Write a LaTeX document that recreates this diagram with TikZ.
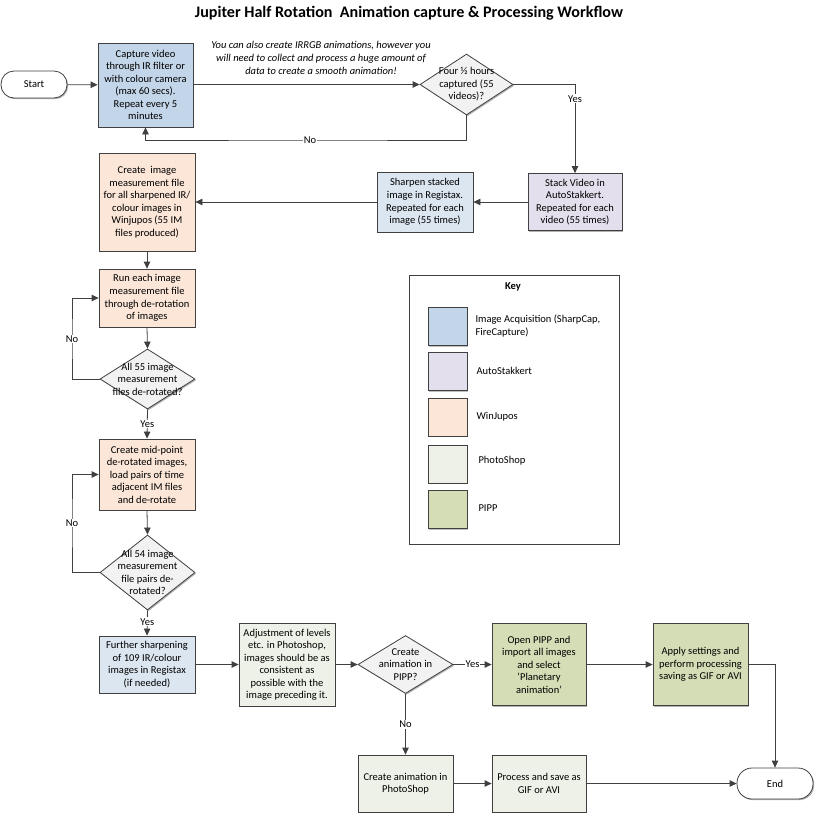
\documentclass[tikz,border=0pt]{standalone}
\usepackage{fontspec}
\setmainfont{Carlito}
\usetikzlibrary{arrows.meta,shapes.geometric,shadows}
\definecolor{acq}{HTML}{C3D5E8}
\definecolor{acqlt}{HTML}{DCE6F1}
\definecolor{ast}{HTML}{E4DFEC}
\definecolor{wjp}{HTML}{FBE6D8}
\definecolor{psh}{HTML}{EEF1E7}
\definecolor{pipp}{HTML}{D5DDB6}
\definecolor{dia}{HTML}{F2F2F2}
\definecolor{ln}{HTML}{404040}
\tikzset{
  box/.style={draw=ln, line width=0.8pt, align=center, inner sep=1pt,
    drop shadow={shadow xshift=1.2pt, shadow yshift=-1.2pt, opacity=0.3, fill=black}},
  term/.style={box, fill=white, rounded corners=13pt},
  dec/.style={diamond, draw=ln, line width=0.8pt, fill=dia, inner sep=0pt,
    drop shadow={shadow xshift=1.2pt, shadow yshift=-1.2pt, opacity=0.3, fill=black}},
  conn/.style={draw=ln, line width=0.8pt, -{Triangle[length=7pt,width=6.5pt]}},
  lbl/.style={fill=white, inner sep=1pt},
  swatch/.style={draw=ln, line width=0.8pt, minimum width=39pt, minimum height=38pt,
    drop shadow={shadow xshift=1pt, shadow yshift=-1pt, opacity=0.25, fill=black}},
  keytxt/.style={anchor=west, align=left},
}
\begin{document}
\begin{tikzpicture}[x=1pt,y=-1pt,font=\fontsize{10.5}{12.5}\selectfont]
\useasboundingbox (0,0) rectangle (815,815);

\node (title) at (409,13) {\fontsize{16.1}{19}\selectfont\bfseries Jupiter Half Rotation\ \ Animation capture \& Processing Workflow};

\node[term, minimum width=66pt, minimum height=27pt] (start) at (34,84.5) {Start};
\node[box, fill=acq, minimum width=95pt, minimum height=84pt] (cap) at (145.5,85)
  {Capture video\\through IR filter or\\with colour camera\\(max 60 secs).\\Repeat every 5\\minutes};
\node[align=center, font=\fontsize{10.5}{13}\selectfont\itshape] (note) at (321,58)
  {You can also create IRRGB animations, however you\\will need to collect and process a huge amount of\\data to create a smooth animation!};
\node[dec, minimum width=93pt, minimum height=61pt,
  label={[align=center]center:Four ½ hours\\captured (55\\videos)?}] (d1) at (466.5,84.5) {};
\node[box, fill=ast, minimum width=94pt, minimum height=57pt] (stack) at (575,202)
  {Stack Video in\\AutoStakkert.\\Repeated for each\\video (55 times)};
\node[box, fill=acqlt, minimum width=96pt, minimum height=60pt] (sharp) at (425,202)
  {Sharpen stacked\\image in Registax.\\Repeated for each\\image (55 times)};
\node[box, fill=wjp, minimum width=96pt, minimum height=98pt] (imf) at (147,202)
  {Create\ \ image\\measurement file\\for all sharpened IR/\\colour images in\\Winjupos (55 IM\\files produced)};
\node[box, fill=wjp, minimum width=96pt, minimum height=58pt] (run) at (147,298)
  {Run each image\\measurement file\\through de-rotation\\of images};
\node[dec, minimum width=95pt, minimum height=60pt,
  label={[align=center]center:All 55 image\\measurement\\files de-rotated?}] (d2) at (147.5,379) {};
\node[box, fill=wjp, minimum width=96pt, minimum height=71pt] (mid) at (147,474.5)
  {Create mid-point\\de-rotated images,\\load pairs of time\\adjacent IM files\\and de-rotate};
\node[dec, minimum width=95pt, minimum height=75pt,
  label={[align=center]center:All 54 image\\measurement\\file pairs de-\\rotated?}] (d3) at (147.5,572.5) {};
\node[box, fill=acqlt, minimum width=96pt, minimum height=57pt] (fur) at (147,664.5)
  {Further sharpening\\of 109 IR/colour\\images in Registax\\(if needed)};
\node[box, fill=psh, minimum width=96pt, minimum height=83pt] (adj) at (287,664.5)
  {Adjustment of levels\\etc. in Photoshop,\\images should be as\\consistent as\\possible with the\\image preceding it.};
\node[dec, minimum width=95pt, minimum height=58pt,
  label={[align=center]center:Create\\animation in\\PIPP?}] (d4) at (405.5,664.5) {};
\node[box, fill=pipp, minimum width=94pt, minimum height=82pt] (open) at (539,664.5)
  {Open PIPP and\\import all images\\and select\\‘Planetary\\animation’};
\node[box, fill=pipp, minimum width=95pt, minimum height=82pt] (apply) at (700.5,664.5)
  {Apply settings and\\perform processing\\saving as GIF or AVI};
\node[term, minimum width=76pt, minimum height=31pt, rounded corners=15pt] (end) at (775,783.5) {End};
\node[box, fill=psh, minimum width=95pt, minimum height=57pt] (psa) at (405.5,783.5)
  {Create animation in\\PhotoShop};
\node[box, fill=psh, minimum width=94pt, minimum height=57pt] (proc) at (539,783.5)
  {Process and save as\\GIF or AVI};

% key
\node[draw=ln, line width=0.8pt, minimum width=210pt, minimum height=269pt] (keybox) at (514,409.5) {};
\node[font=\fontsize{10.5}{12.5}\selectfont\bfseries] (keyt) at (513,287) {Key};
\node[swatch, fill=acq] (k1) at (447.5,326.5) {};
\node[swatch, fill=ast] (k2) at (447.5,371.5) {};
\node[swatch, fill=wjp] (k3) at (447.5,417) {};
\node[swatch, fill=psh] (k4) at (447.5,464) {};
\node[swatch, fill=pipp] (k5) at (447.5,509.5) {};
\node[keytxt] (k1t) at (472,326) {Image Acquisition (SharpCap,\\FireCapture)};
\node[keytxt] (k2t) at (473,371) {AutoStakkert};
\node[keytxt] (k3t) at (473,417) {WinJupos};
\node[keytxt] (k4t) at (475,461) {PhotoShop};
\node[keytxt] (k5t) at (475,508) {PIPP};

% connectors
\coordinate (c1) at (310,140);
\coordinate (l1) at (72,339);
\coordinate (l2) at (72,523);
\draw[conn] (start) -- (cap);
\draw[conn] (cap.east |- d1.west) -- (d1.west);
\draw[conn] (d1.south) |- (c1) node[lbl]{No} -| (cap.south);
\draw[conn] (d1.east) -| node[lbl, pos=0.58]{Yes} (stack.north);
\draw[conn] (stack.west) -- (sharp.east);
\draw[conn] (sharp.west) -- (imf.east);
\draw[conn] (imf.south) -- (run.north);
\draw[conn] (run.south) -- (d2.north);
\draw[conn] (d2.west) -| (l1) node[lbl]{No} |- (run.west);
\draw[conn] (d2.south) -- node[lbl]{Yes} (mid.north);
\draw[conn] (mid.south) -- (d3.north);
\draw[conn] (d3.west) -| (l2) node[lbl]{No} |- (mid.west);
\draw[conn] (d3.south) -- node[lbl, pos=0.45]{Yes} (fur.north);
\draw[conn] (fur.east) -- (adj.west);
\draw[conn] (adj.east) -- (d4.west);
\draw[conn] (d4.east) -- node[lbl]{Yes} (open.west);
\draw[conn] (open.east) -- (apply.west);
\draw[conn] (apply.east) -| (end.north);
\draw[conn] (d4.south) -- node[lbl]{No} (psa.north);
\draw[conn] (psa.east) -- (proc.west);
\draw[conn] (proc.east) -- (end.west);
\end{tikzpicture}
\end{document}
